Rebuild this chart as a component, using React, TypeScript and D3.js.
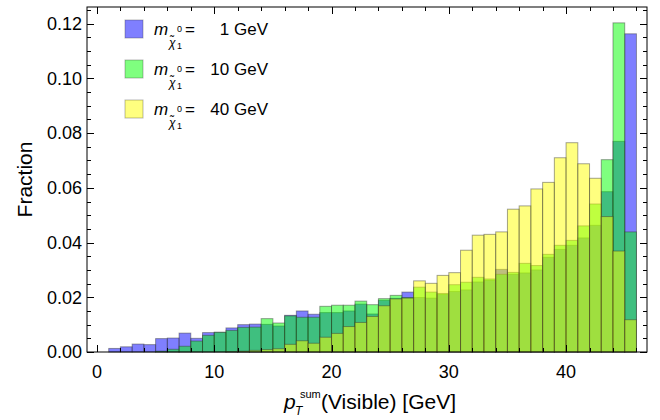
import { useEffect, useRef } from 'react';
import * as d3 from 'd3';

// bin i covers [i, i+1) GeV
const blue1 = [
  0, 0.0013, 0.0019, 0.0029, 0.0027, 0.0049, 0.0051, 0.0069, 0.005, 0.0071,
  0.0072, 0.0088, 0.01, 0.0102, 0.0101, 0.0095, 0.0134, 0.015, 0.0138, 0.0144,
  0.0144, 0.015, 0.0175, 0.0139, 0.0189, 0.0196, 0.0219, 0.0199, 0.0197, 0.021,
  0.0221, 0.0227, 0.0256, 0.0262, 0.0302, 0.0284, 0.0289, 0.03, 0.0346, 0.0375,
  0.039, 0.0417, 0.0463, 0.0586, 0.077, 0.1163,
];
const green10 = [
  0, 0, 0, 0, 0, 0.0003, 0.001, 0.0021, 0.004, 0.0061,
  0.0072, 0.0079, 0.009, 0.0091, 0.0122, 0.0106, 0.0132, 0.0127, 0.0127, 0.0167,
  0.0171, 0.0171, 0.0186, 0.0173, 0.0195, 0.0207, 0.0199, 0.0237, 0.0219, 0.0214,
  0.0246, 0.0255, 0.0273, 0.0267, 0.0284, 0.0291, 0.0324, 0.0316, 0.0357, 0.039,
  0.0408, 0.0461, 0.0541, 0.0703, 0.1203, 0.0439,
];
const yellow40 = [
  0, 0, 0, 0, 0, 0, 0, 0, 0, 0,
  0, 0.0001, 0.0003, 0.0006, 0.0009, 0.0012, 0.0028, 0.0041, 0.0032, 0.0054,
  0.0068, 0.0093, 0.0108, 0.013, 0.0169, 0.0194, 0.0197, 0.026, 0.0251, 0.028,
  0.029, 0.0372, 0.0427, 0.043, 0.0439, 0.0522, 0.0534, 0.0596, 0.062, 0.071,
  0.0765, 0.0688, 0.0635, 0.0495, 0.0369, 0.0118,
];

const series = [
  { mass: '1', values: blue1, color: '#0000ff' },
  { mass: '10', values: green10, color: '#00ff00' },
  { mass: '40', values: yellow40, color: '#ffff00' },
];

const xTicks = [0, 10, 20, 30, 40];
const yTicks = [0, 0.02, 0.04, 0.06, 0.08, 0.1, 0.12];

const FONT = '"Liberation Sans", Arial, Helvetica, sans-serif';

function App() {
  const svgRef = useRef<SVGSVGElement>(null);

  useEffect(() => {
    const W = 660;
    const H = 420;
    const left = 87, right = 647, top = 7, bottom = 352;

    d3.select(svgRef.current).selectAll('*').remove();
    const svg = d3.select(svgRef.current).attr('width', W).attr('height', H);

    const x = d3.scaleLinear().domain([-0.85, 46.9]).range([left, right]);
    const y = d3.scaleLinear().domain([0, 0.1261]).range([bottom, top]);

    // bars
    series.forEach((s) => {
      svg
        .append('g')
        .selectAll('rect')
        .data(s.values.map((v, i) => ({ v, i })).filter((d) => d.v > 0))
        .enter()
        .append('rect')
        .attr('x', (d) => x(d.i))
        .attr('y', (d) => y(d.v))
        .attr('width', (d) => x(d.i + 1) - x(d.i))
        .attr('height', (d) => y(0) - y(d.v))
        .attr('fill', s.color)
        .attr('fill-opacity', 0.5)
        .attr('stroke', '#333')
        .attr('stroke-opacity', 0.45)
        .attr('stroke-width', 1);
    });

    // frame
    svg
      .append('rect')
      .attr('x', left)
      .attr('y', top)
      .attr('width', right - left)
      .attr('height', bottom - top)
      .attr('fill', 'none')
      .attr('stroke', '#000')
      .attr('stroke-width', 1);

    const ticks = svg.append('g').attr('stroke', '#000').attr('stroke-width', 1);
    d3.range(0, 47, 2).forEach((t) => {
      const len = t % 10 === 0 ? 7 : 4;
      const px = Math.round(x(t)) + 0.5;
      ticks.append('line').attr('x1', px).attr('x2', px).attr('y1', bottom).attr('y2', bottom - len);
      ticks.append('line').attr('x1', px).attr('x2', px).attr('y1', top).attr('y2', top + len);
    });
    d3.range(0, 0.1251, 0.005).forEach((t, k) => {
      const len = k % 4 === 0 ? 7 : 4;
      const py = Math.round(y(t)) + 0.5;
      ticks.append('line').attr('x1', left).attr('x2', left + len).attr('y1', py).attr('y2', py);
      ticks.append('line').attr('x1', right).attr('x2', right - len).attr('y1', py).attr('y2', py);
    });

    // tick labels
    svg
      .append('g')
      .selectAll('text')
      .data(xTicks)
      .enter()
      .append('text')
      .attr('x', (d) => x(d))
      .attr('y', 378)
      .attr('text-anchor', 'middle')
      .style('font-family', FONT)
      .style('font-size', '18px')
      .text((d) => d);

    svg
      .append('g')
      .selectAll('text')
      .data(yTicks)
      .enter()
      .append('text')
      .attr('x', left - 5)
      .attr('y', (d) => y(d))
      .attr('dy', '0.35em')
      .attr('text-anchor', 'end')
      .style('font-family', FONT)
      .style('font-size', '18px')
      .text((d) => d.toFixed(2));

    // axis titles
    svg
      .append('text')
      .attr('transform', `translate(32,${(top + bottom) / 2}) rotate(-90)`)
      .attr('text-anchor', 'middle')
      .style('font-family', FONT)
      .style('font-size', '21px')
      .text('Fraction');

    // x title: p_T^sum stacked, then the rest
    const xt = svg.append('g').style('font-family', FONT);
    xt.append('text').attr('x', 284).attr('y', 409).style('font-size', '21px').style('font-style', 'italic').text('p');
    xt.append('text').attr('x', 295).attr('y', 415).style('font-size', '12px').style('font-style', 'italic').text('T');
    xt.append('text').attr('x', 300).attr('y', 398).style('font-size', '11px').text('sum');
    xt.append('text').attr('x', 321).attr('y', 409).style('font-size', '21px').text('(Visible) [GeV]');

    // legend
    series.forEach((s, k) => {
      const g = svg.append('g').attr('transform', `translate(125,${20 + k * 40})`);
      g.append('rect')
        .attr('width', 18)
        .attr('height', 18)
        .attr('fill', s.color)
        .attr('fill-opacity', 0.5)
        .attr('stroke', '#333')
        .attr('stroke-opacity', 0.35);
      const txt = (tx: number, ty: number, size: number, str: string, italic = false, anchor = 'start') =>
        g.append('text')
          .attr('x', tx)
          .attr('y', ty)
          .attr('text-anchor', anchor)
          .style('font-family', FONT)
          .style('font-size', `${size}px`)
          .style('font-style', italic ? 'italic' : 'normal')
          .text(str);
      txt(29, 15, 17, 'm', true);
      txt(44, 27, 12, '\u03c7\u0303', true);
      txt(52, 12, 9, '0');
      txt(52, 29, 9, '1');
      txt(60, 15, 17, '=');
      txt(143, 15, 17, `${s.mass} GeV`, false, 'end');
    });
  }, []);

  return <svg ref={svgRef} style={{ position: 'absolute', left: 0, top: 0 }}></svg>;
}

export default App;
